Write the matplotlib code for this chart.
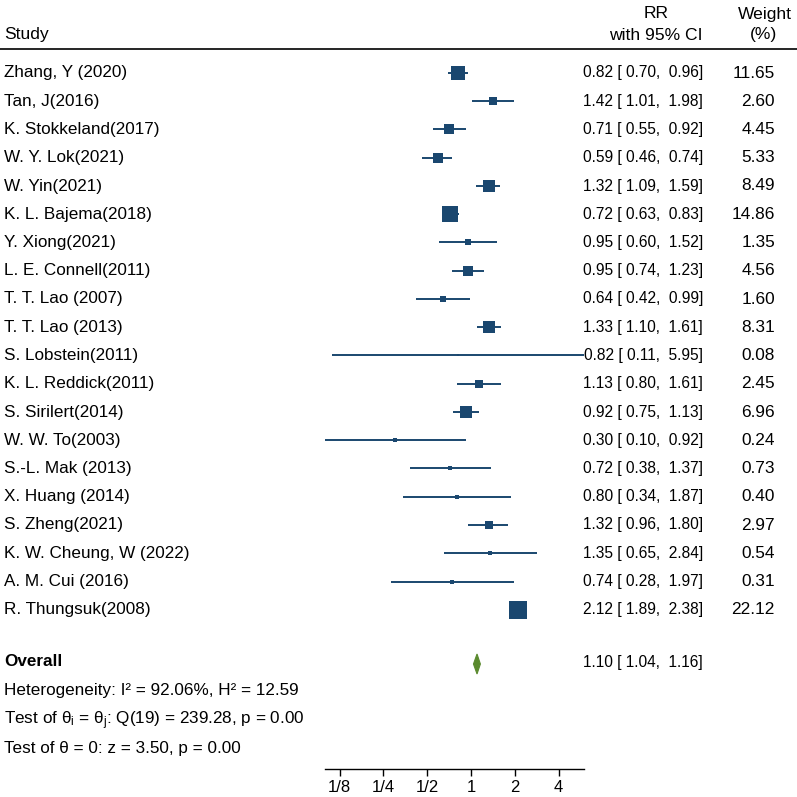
import numpy as np
import matplotlib
matplotlib.use("Agg")
import matplotlib.pyplot as plt

plt.rcParams['font.family'] = ['Liberation Sans', 'DejaVu Sans']
plt.rcParams['mathtext.fontset'] = 'custom'
plt.rcParams['mathtext.rm'] = 'Liberation Sans'
plt.rcParams['mathtext.it'] = 'Liberation Sans'
plt.rcParams['mathtext.bf'] = 'Liberation Sans:bold'

studies = ["Zhang, Y (2020)", "Tan, J(2016)", "K. Stokkeland(2017)", "W. Y. Lok(2021)",
           "W. Yin(2021)", "K. L. Bajema(2018)", "Y. Xiong(2021)", "L. E. Connell(2011)",
           "T. T. Lao (2007)", "T. T. Lao (2013)", "S. Lobstein(2011)", "K. L. Reddick(2011)",
           "S. Sirilert(2014)", "W. W. To(2003)", "S.-L. Mak (2013)", "X. Huang (2014)",
           "S. Zheng(2021)", "K. W. Cheung, W (2022)", "A. M. Cui (2016)", "R. Thungsuk(2008)"]
rr = [0.82, 1.42, 0.71, 0.59, 1.32, 0.72, 0.95, 0.95, 0.64, 1.33,
      0.82, 1.13, 0.92, 0.30, 0.72, 0.80, 1.32, 1.35, 0.74, 2.12]
lo = [0.70, 1.01, 0.55, 0.46, 1.09, 0.63, 0.60, 0.74, 0.42, 1.10,
      0.11, 0.80, 0.75, 0.10, 0.38, 0.34, 0.96, 0.65, 0.28, 1.89]
hi = [0.96, 1.98, 0.92, 0.74, 1.59, 0.83, 1.52, 1.23, 0.99, 1.61,
      5.95, 1.61, 1.13, 0.92, 1.37, 1.87, 1.80, 2.84, 1.97, 2.38]
weight = [11.65, 2.60, 4.45, 5.33, 8.49, 14.86, 1.35, 4.56, 1.60, 8.31,
          0.08, 2.45, 6.96, 0.24, 0.73, 0.40, 2.97, 0.54, 0.31, 22.12]
overall = (1.10, 1.04, 1.16)
tick_vals = [0.125, 0.25, 0.5, 1, 2, 4]
tick_labels = ["1/8", "1/4", "1/2", "1", "2", "4"]

W = H = 797
fig = plt.figure(figsize=(W / 100, H / 100), dpi=100)

def fx(px):
    return px / W

def fy(py):
    return 1 - py / H

ax_l, ax_r, ax_t, ax_b = 300, 600, 55, 769
ax = fig.add_axes([fx(ax_l), fy(ax_b), fx(ax_r) - fx(ax_l), fy(ax_t) - fy(ax_b)])
ax.set_xscale('log', base=2)
px_per_oct = 43.8
x1px = 471
ax.set_xlim(2 ** ((ax_l - x1px) / px_per_oct), 2 ** ((ax_r - x1px) / px_per_oct))
row0, rstep = 73, 28.25
ax.set_ylim((ax_b - row0) / rstep, (ax_t - row0) / rstep)

navy = "#1A476F"
green = "#5A8A2E"
n = len(studies)
ys = np.arange(n)
for i in range(n):
    ax.plot([lo[i], hi[i]], [ys[i], ys[i]], color=navy, lw=1.4, solid_capstyle='butt', zorder=2)
    side_px = 3.5 * np.sqrt(weight[i]) + 2.0
    ax.plot([rr[i]], [ys[i]], marker='s', ms=side_px * 0.72, color=navy, mec=navy, mew=0, zorder=3)

oy = (664 - row0) / rstep
dh = 10 / rstep
ax.fill([overall[1], overall[0], overall[2], overall[0]], [oy, oy - dh, oy, oy + dh],
        color=green, lw=0.8, ec=green, zorder=3)

for s in ['top', 'right', 'left']:
    ax.spines[s].set_visible(False)
ax.spines['bottom'].set_bounds(2 ** ((325 - x1px) / px_per_oct), 2 ** ((584 - x1px) / px_per_oct))
ax.spines['bottom'].set_linewidth(1.0)
ax.set_yticks([])
ax.set_xticks(tick_vals)
ax.set_xticklabels(tick_labels)
ax.xaxis.set_minor_locator(matplotlib.ticker.NullLocator())
ax.tick_params(axis='x', length=5, width=1, labelsize=12, pad=3)
ax.patch.set_visible(False)

fs = 12.3
fs_rr = 11.2
fs_w = 12.4
fs_h = 12.6
fig.text(fx(4), fy(35), "Study", fontsize=fs_h, va='center', ha='left')
fig.text(fx(656), fy(14), "RR", fontsize=fs_h, va='center', ha='center')
fig.text(fx(656), fy(35), "with 95% CI", fontsize=fs_h, va='center', ha='center')
fig.text(fx(765), fy(14), "Weight", fontsize=fs_h, va='center', ha='center')
fig.text(fx(764), fy(35), "(%)", fontsize=fs_h, va='center', ha='center')
fig.add_artist(plt.Line2D([0, 1], [fy(48.5), fy(48.5)], color='black', lw=1.2, transform=fig.transFigure))

for i in range(n):
    py = row0 + i * rstep
    fig.text(fx(4), fy(py), studies[i], fontsize=fs, va='center', ha='left')
    fig.text(fx(703), fy(py), f"{rr[i]:.2f} [ {lo[i]:.2f},  {hi[i]:.2f}]", fontsize=fs_rr, va='center', ha='right')
    fig.text(fx(775), fy(py), f"{weight[i]:.2f}", fontsize=fs_w, va='center', ha='right')

fig.text(fx(4), fy(662), "Overall", fontsize=fs, va='center', ha='left', fontweight='bold')
fig.text(fx(703), fy(662), f"{overall[0]:.2f} [ {overall[1]:.2f},  {overall[2]:.2f}]", fontsize=fs_rr, va='center', ha='right')
fig.text(fx(4), fy(691), "Heterogeneity: I\u00b2 = 92.06%, H\u00b2 = 12.59", fontsize=fs, va='center', ha='left')
fig.text(fx(4), fy(721), r"Test of $\mathrm{\theta}_{\mathrm{i}}$ = $\mathrm{\theta}_{\mathrm{j}}$: Q(19) = 239.28, p = 0.00",
         fontsize=fs, va='center', ha='left')
fig.text(fx(4), fy(749), "Test of \u03b8 = 0: z = 3.50, p = 0.00", fontsize=fs, va='center', ha='left')

fig.savefig("out.png", dpi=100)
